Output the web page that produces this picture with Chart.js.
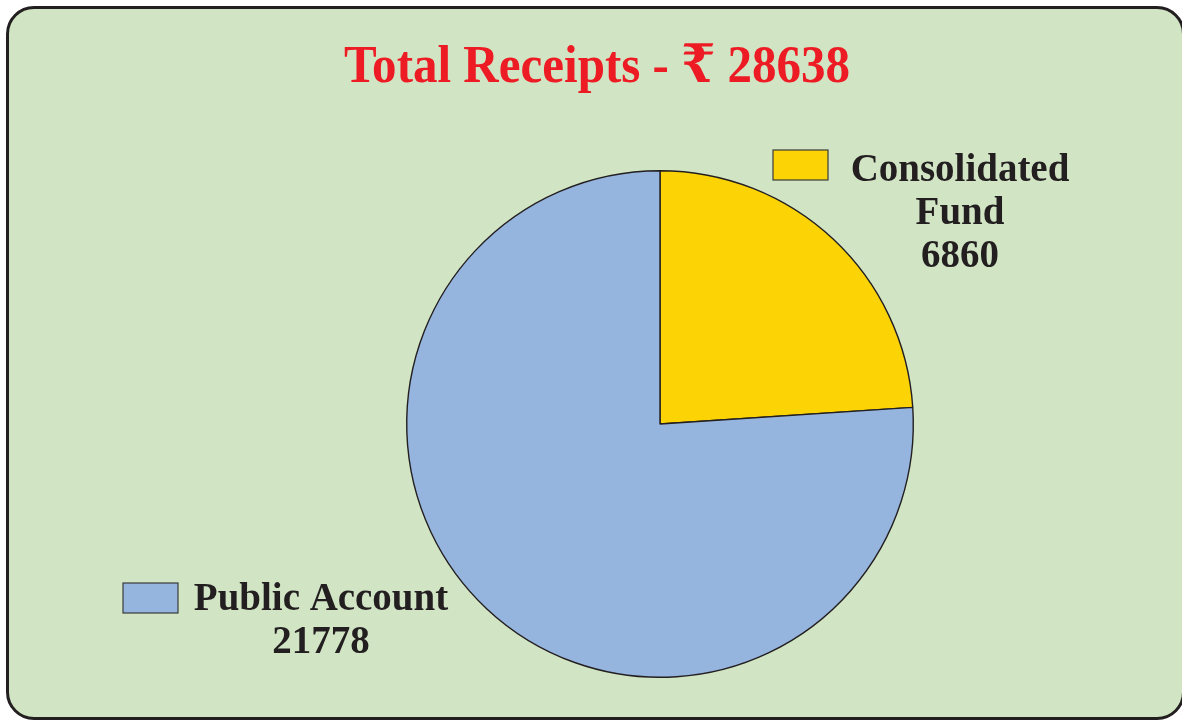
<!DOCTYPE html>
<html>
<head>
<meta charset="utf-8">
<script src="https://cdn.jsdelivr.net/npm/chart.js@4"></script>
<style>
  html, body { margin: 0; padding: 0; background: #ffffff; }
  #wrap { position: relative; width: 1182px; height: 720px; overflow: hidden; }
  #frame {
    position: absolute; left: 6px; top: 6px; width: 1179px; height: 714px;
    box-sizing: border-box; border: 3px solid #231f20; border-radius: 28px;
    background: #d1e5c4;
  }
  #c { position: absolute; left: 0; top: 0; }
</style>
</head>
<body>
<div id="wrap">
  <div id="frame"></div>
  <canvas id="c" width="1182" height="720"></canvas>
</div>
<script>
// ---- data ----
const titleText = 'Total Receipts - \u20B9 28638';
const categories = ['Consolidated Fund', 'Public Account'];
const labelLines = [['Consolidated', 'Fund'], ['Public Account']];
const values = [6860, 21778];
const colors = ['#fcd405', '#95b4de'];

function condensedText(ctx, text, x, y, sx) {
  ctx.save();
  ctx.translate(x, y);
  ctx.scale(sx, 1);
  ctx.fillText(text, 0, 0);
  ctx.restore();
}

// ---- custom text / legend plugin ----
const labelPlugin = {
  id: 'labelPlugin',
  afterDraw(chart) {
    const ctx = chart.ctx;
    ctx.save();
    // title
    ctx.fillStyle = '#ed1c24';
    ctx.font = 'bold 53px "Liberation Serif", "DejaVu Serif", serif';
    ctx.textAlign = 'center';
    ctx.textBaseline = 'alphabetic';
    condensedText(ctx, titleText, 597, 82, 0.925);

    const blocks = [
      { sw: [773, 150, 55, 30], cx: 960, y0: 181 },
      { sw: [123, 583, 55, 30], cx: 321, y0: 610 }
    ];
    blocks.forEach((b, i) => {
      ctx.fillStyle = colors[i];
      ctx.fillRect(b.sw[0], b.sw[1], b.sw[2], b.sw[3]);
      ctx.strokeStyle = '#3a3a3a';
      ctx.lineWidth = 1.2;
      ctx.strokeRect(b.sw[0], b.sw[1], b.sw[2], b.sw[3]);
      ctx.fillStyle = '#231f20';
      ctx.font = 'bold 41px "Liberation Serif", "DejaVu Serif", serif';
      const lines = labelLines[i].concat([String(values[i])]);
      lines.forEach((t, k) => condensedText(ctx, t, b.cx, b.y0 + k * 43, 0.95));
    });
    ctx.restore();
  }
};

new Chart(document.getElementById('c'), {
  type: 'pie',
  data: {
    labels: categories,
    datasets: [{
      data: values,
      backgroundColor: colors,
      borderColor: '#231f20',
      borderWidth: 1.4
    }]
  },
  options: {
    responsive: false,
    animation: false,
    layout: { padding: { left: 406, right: 268, top: 170, bottom: 42 } },
    plugins: {
      legend: { display: false },
      title: { display: false, text: titleText },
      tooltip: { enabled: false }
    }
  },
  plugins: [labelPlugin]
});
</script>
</body>
</html>
